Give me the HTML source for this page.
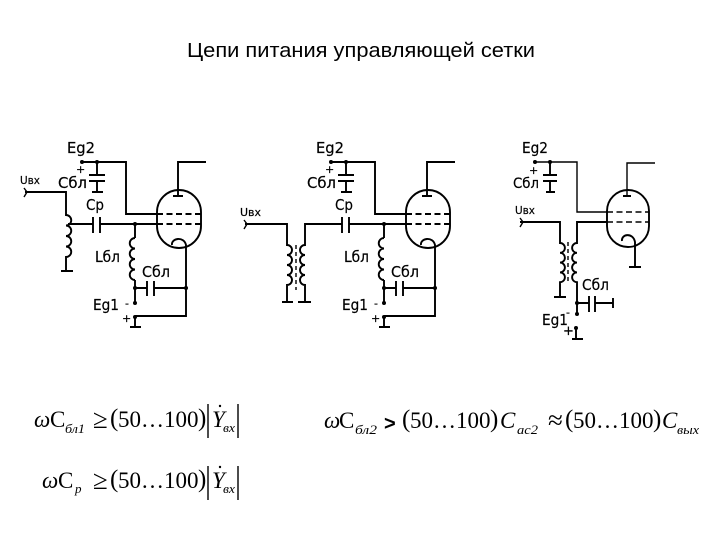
<!DOCTYPE html>
<html><head><meta charset="utf-8"><style>
html,body{margin:0;padding:0;background:#fff}
svg{display:block}
.w{fill:none;stroke:#000;stroke-width:1.9}
.t{fill:none;stroke:#000;stroke-width:1.4}
.l{font-family:"DejaVu Sans","Liberation Sans",sans-serif;fill:#000;stroke:#000;stroke-width:.2}
.m{font-family:"Liberation Serif",serif;fill:#000;font-size:23px}
.s{font-family:"Liberation Serif",serif;font-style:italic;fill:#000;font-size:13px}
.i{font-style:italic}
.p{font-size:25px;font-weight:normal}
.r{font-size:27px}
</style></head><body>
<svg width="720" height="540" viewBox="0 0 720 540" xmlns="http://www.w3.org/2000/svg">
<text x="187" y="57" font-family="'Liberation Sans',sans-serif" font-size="20" textLength="348" lengthAdjust="spacingAndGlyphs">Цепи питания управляющей сетки</text>

<!-- Circuit 1 -->
<g>
<path class="w" d="M82 162H126V214H157M97 162V175M89 175H105M89 181H105M97 181V192M92 192H103"/>
<rect class="w" x="157" y="190" width="44" height="58" rx="22" ry="22"/>
<path class="w" d="M178 196V162H206M173 196H183"/>
<path class="w" stroke-dasharray="6 3.5" d="M157 214H201M157 224H201"/>
<path class="w" d="M172 245C171 238 184 236 186 245V316H135M135 224V238M135 280V303M135 288H147M147 281V296M154 281V296M154 288H186M135 317V327M130 327H141"/>
<path class="w" d="M135 238a5.2 5.2 0 0 0 0 10.5a5.2 5.2 0 0 0 0 10.5a5.2 5.2 0 0 0 0 10.5a5.2 5.2 0 0 0 0 10.5"/>
<path class="w" d="M68 224H93M93 217V233M100 217V233M100 224H157"/>
<path class="w" d="M25 192H66V215a5.2 5.2 0 0 1 0 10.5a5.2 5.2 0 0 1 0 10.5a5.2 5.2 0 0 1 0 10.5a5.2 5.2 0 0 1 0 10.5V271M61 271H73"/>
<path class="t" d="M24 188L27 192L24 197"/>
<circle cx="82" cy="162" r="2"/><circle cx="97" cy="162" r="2"/><circle cx="135" cy="224" r="2"/><circle cx="135" cy="288" r="2"/><circle cx="186" cy="288" r="2"/><circle cx="135" cy="303" r="2"/><circle cx="135" cy="317" r="2"/>
<text class="l" x="67" y="153" font-size="15" textLength="28" lengthAdjust="spacingAndGlyphs">Eg2</text>
<text class="l" x="76" y="173" font-size="11">+</text>
<text class="l" x="58" y="188" font-size="15" textLength="29" lengthAdjust="spacingAndGlyphs">Сбл</text>
<text class="l" x="20" y="184" font-size="11" textLength="20" lengthAdjust="spacingAndGlyphs">Uвх</text>
<text class="l" x="86" y="210" font-size="15" textLength="18" lengthAdjust="spacingAndGlyphs">Ср</text>
<text class="l" x="95" y="262" font-size="15" textLength="25" lengthAdjust="spacingAndGlyphs">Lбл</text>
<text class="l" x="142" y="277" font-size="15" textLength="28" lengthAdjust="spacingAndGlyphs">Сбл</text>
<text class="l" x="93" y="310" font-size="15" textLength="26" lengthAdjust="spacingAndGlyphs">Eg1</text>
<text class="l" x="125" y="307" font-size="11">-</text>
<text class="l" x="122" y="322" font-size="11">+</text>
</g>

<!-- Circuit 2 -->
<g>
<path class="w" d="M331 162H375V214H406M346 162V175M338 175H354M338 181H354M346 181V192M341 192H352"/>
<rect class="w" x="406" y="190" width="44" height="58" rx="22" ry="22"/>
<path class="w" d="M427 196V162H455M422 196H432"/>
<path class="w" stroke-dasharray="6 3.5" d="M406 214H450M406 224H450"/>
<path class="w" d="M421 245C420 238 433 236 435 245V316H384M384 224V238M384 280V303M384 288H396M396 281V296M403 281V296M403 288H435M384 317V327M379 327H390"/>
<path class="w" d="M384 238a5.2 5.2 0 0 0 0 10.5a5.2 5.2 0 0 0 0 10.5a5.2 5.2 0 0 0 0 10.5a5.2 5.2 0 0 0 0 10.5"/>
<path class="w" d="M245 224H287V245a5 5 0 0 1 0 10a5 5 0 0 1 0 10a5 5 0 0 1 0 10a5 5 0 0 1 0 10V302M282 302H293"/>
<path class="w" d="M342 224H305V245a5 5 0 0 0 0 10a5 5 0 0 0 0 10a5 5 0 0 0 0 10a5 5 0 0 0 0 10V302M298 302H311"/>
<path class="t" stroke-dasharray="4 3" d="M296 245V290"/>
<path class="w" d="M342 217V233M349 217V233M349 224H406"/>
<path class="t" d="M244 220L247 224L244 229"/>
<circle cx="331" cy="162" r="2"/><circle cx="346" cy="162" r="2"/><circle cx="384" cy="224" r="2"/><circle cx="384" cy="288" r="2"/><circle cx="435" cy="288" r="2"/><circle cx="384" cy="303" r="2"/><circle cx="384" cy="317" r="2"/>
<text class="l" x="316" y="153" font-size="15" textLength="28" lengthAdjust="spacingAndGlyphs">Eg2</text>
<text class="l" x="325" y="173" font-size="11">+</text>
<text class="l" x="307" y="188" font-size="15" textLength="29" lengthAdjust="spacingAndGlyphs">Сбл</text>
<text class="l" x="240" y="216" font-size="11" textLength="21" lengthAdjust="spacingAndGlyphs">Uвх</text>
<text class="l" x="335" y="210" font-size="15" textLength="18" lengthAdjust="spacingAndGlyphs">Ср</text>
<text class="l" x="344" y="262" font-size="15" textLength="25" lengthAdjust="spacingAndGlyphs">Lбл</text>
<text class="l" x="391" y="277" font-size="15" textLength="28" lengthAdjust="spacingAndGlyphs">Сбл</text>
<text class="l" x="342" y="310" font-size="15" textLength="26" lengthAdjust="spacingAndGlyphs">Eg1</text>
<text class="l" x="374" y="307" font-size="11">-</text>
<text class="l" x="371" y="322" font-size="11">+</text>
</g>

<!-- Circuit 3 -->
<g>
<path class="t" d="M535 162H577V212H607M655 163H627V196"/>
<path class="w" d="M550 162V175M543 175H557M543 181H557M550 181V192M546 192H555M623 196H631"/>
<rect class="w" x="607" y="190" width="42" height="57" rx="21" ry="21"/>
<path class="t" stroke-dasharray="6 3.5" d="M607 212H649M607 222H649"/>
<path class="w" d="M622 241C621 234 633 232 635 242V267M629 267H641"/>
<path class="w" d="M520 222H560V243a4.9 4.9 0 0 1 0 9.8a4.9 4.9 0 0 1 0 9.8a4.9 4.9 0 0 1 0 9.8a4.9 4.9 0 0 1 0 9.8V297M554 297H566"/>
<path class="w" d="M607 222H577V243a4.9 4.9 0 0 0 0 9.8a4.9 4.9 0 0 0 0 9.8a4.9 4.9 0 0 0 0 9.8a4.9 4.9 0 0 0 0 9.8V314"/>
<path class="t" stroke-dasharray="4 3" d="M568 242V284"/>
<path class="w" d="M577 303H589M589 296V312M595 296V312M595 303H613M613 298V308M576 328V339M572 339H583"/>
<path class="t" d="M520 218L523 222L520 227"/>
<circle cx="535" cy="162" r="2"/><circle cx="550" cy="162" r="2"/><circle cx="577" cy="303" r="2"/><circle cx="577" cy="314" r="2"/><circle cx="576" cy="328" r="2"/>
<text class="l" x="522" y="153" font-size="15" textLength="26" lengthAdjust="spacingAndGlyphs">Eg2</text>
<text class="l" x="529" y="174" font-size="11">+</text>
<text class="l" x="513" y="188" font-size="14" textLength="26" lengthAdjust="spacingAndGlyphs">Сбл</text>
<text class="l" x="515" y="214" font-size="11" textLength="20" lengthAdjust="spacingAndGlyphs">Uвх</text>
<text class="l" x="582" y="290" font-size="15" textLength="27" lengthAdjust="spacingAndGlyphs">Сбл</text>
<text class="l" x="542" y="325" font-size="15" textLength="26" lengthAdjust="spacingAndGlyphs">Eg1</text>
<text class="l" x="566" y="316" font-size="11">-</text>
<text class="l" x="563" y="335" font-size="13">+</text>
</g>

<!-- Formula 1 -->
<g>
<text class="m i" x="34" y="427">ω</text><text class="m" x="50" y="427">C</text>
<text class="s" x="65" y="433" textLength="20" lengthAdjust="spacingAndGlyphs">бл1</text>
<text class="m r" x="93" y="428">≥</text>
<text class="m p" x="110" y="426">(</text>
<text class="m" x="118" y="427">50…100</text>
<text class="m p" x="198" y="426">)</text>
<path class="t" d="M208 404V438M238 404V438"/>
<text class="m i" x="212" y="427">Y</text><circle cx="220" cy="406" r="1.2"/>
<text class="s" x="223" y="432" textLength="12" lengthAdjust="spacingAndGlyphs">вх</text>
</g>

<!-- Formula 2 -->
<g>
<text class="m i" x="42" y="488">ω</text><text class="m" x="58" y="488">C</text>
<text class="s" x="75" y="493">р</text>
<text class="m r" x="93" y="489">≥</text>
<text class="m p" x="110" y="487">(</text>
<text class="m" x="118" y="488">50…100</text>
<text class="m p" x="198" y="487">)</text>
<path class="t" d="M208 466V500M238 466V500"/>
<text class="m i" x="212" y="488">Y</text><circle cx="220" cy="467" r="1.2"/>
<text class="s" x="223" y="493" textLength="12" lengthAdjust="spacingAndGlyphs">вх</text>
</g>

<!-- Formula 3 -->
<g>
<text class="m i" x="324" y="428">ω</text><text class="m" x="339" y="428">C</text>
<text class="s" x="355" y="434" textLength="22" lengthAdjust="spacingAndGlyphs">бл2</text>
<text x="384" y="430" font-family="'Liberation Sans',sans-serif" font-weight="bold" font-size="20">&gt;</text>
<text class="m p" x="402" y="427">(</text>
<text class="m" x="410" y="428">50…100</text>
<text class="m p" x="490" y="427">)</text>
<text class="m i" x="500" y="428">C</text>
<text class="s" x="517" y="434" textLength="21" lengthAdjust="spacingAndGlyphs">ас2</text>
<text class="m r" x="548" y="429">≈</text>
<text class="m p" x="565" y="427">(</text>
<text class="m" x="573" y="428">50…100</text>
<text class="m p" x="653" y="427">)</text>
<text class="m i" x="662" y="428">C</text>
<text class="s" x="677" y="434" textLength="22" lengthAdjust="spacingAndGlyphs">вых</text>
</g>
</svg>
</body></html>
